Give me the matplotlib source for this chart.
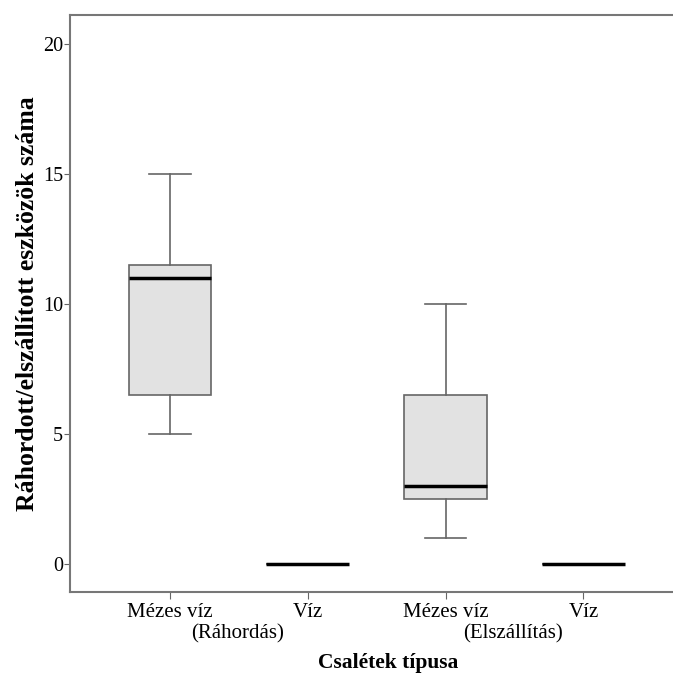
import matplotlib
matplotlib.use("Agg")
import matplotlib.pyplot as plt
import matplotlib.transforms as mtransforms

plt.rcParams['font.family'] = ['Liberation Serif', 'DejaVu Serif']

# boxplot summary
categories = ['Mézes víz', 'Víz', 'Mézes víz', 'Víz']
subtitles = ['(Ráhordás)', '', '(Elszállítás)', '']
whisker_low = [5, 0, 1, 0]
q1 = [6.5, 0, 2.5, 0]
median = [11, 0, 3, 0]
q3 = [11.5, 0, 6.5, 0]
whisker_high = [15, 0, 10, 0]
yticks = [0, 5, 10, 15, 20]

stats = []
for i in range(len(categories)):
    stats.append({'whislo': whisker_low[i], 'q1': q1[i], 'med': median[i],
                  'q3': q3[i], 'whishi': whisker_high[i], 'fliers': []})

fig = plt.figure(figsize=(6.73, 6.75), dpi=100)
ax = fig.add_axes([0.104, 0.1225, 0.896, 0.8553])

grey = '#666666'
pos = [1, 2, 3, 4]
ax.bxp(stats, positions=pos, widths=0.6, patch_artist=True, showfliers=False,
       boxprops=dict(facecolor='#e2e2e2', edgecolor=grey, linewidth=1.2),
       whiskerprops=dict(color=grey, linewidth=1.2),
       capprops=dict(color=grey, linewidth=1.2),
       medianprops=dict(color='black', linewidth=2.5))

ax.set_xlim(0.274, 4.65)
ax.set_ylim(-1.1, 21.1)
ax.set_yticks(yticks)
ax.set_xticks(pos)
ax.set_xticklabels(categories, fontsize=15)
ax.tick_params(axis='y', labelsize=14.5, length=4, color=grey, pad=1)
ax.tick_params(axis='x', length=5, color=grey, pad=3)

# second line of the tick labels, shifted right as in the original
trans = mtransforms.blended_transform_factory(ax.transData, ax.transAxes)
for p, s in zip(pos, subtitles):
    if s:
        ax.text(p + 0.49, -0.072, s, transform=trans, ha='center', va='center',
                fontsize=15)

for side in ['left', 'top', 'bottom']:
    ax.spines[side].set_color('#777777')
    ax.spines[side].set_linewidth(1.5)
ax.spines['right'].set_visible(False)

ax.set_xlabel('Csalétek típusa', fontsize=15.5, fontweight='bold', va='center')
ax.xaxis.set_label_coords(0.527, -0.122)
ax.set_ylabel('Ráhordott/elszállított eszközök száma', fontsize=18.5,
              fontweight='bold', labelpad=3)

fig.savefig('out.png', dpi=100)
